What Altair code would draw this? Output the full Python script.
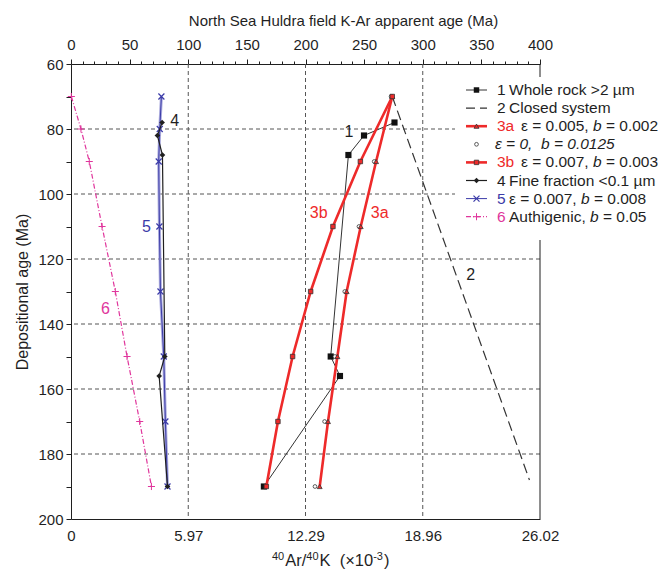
import altair as alt
import pandas as pd

# ---------------- data ----------------
s1_dep = [78, 82, 88, 150, 156, 190]
s1_age = [275.9, 249.9, 236.6, 221.5, 229.4, 164.5]
s2_dep = [70, 188]
s2_age = [274, 391]
s3a_dep = [70, 90, 110, 130, 150, 170, 190]
s3a_age = [274, 260.2, 247.1, 235.1, 227.2, 219.2, 212.1]
s0_dep = [70, 90, 110, 130, 150, 170, 190]
s0_age = [273, 258.6, 245.6, 233.5, 225.1, 216.3, 208.1]
s3b_dep = [70, 90, 110, 130, 150, 170, 190]
s3b_age = [274, 246.8, 223.4, 204.4, 189.0, 176.5, 166.6]
s4_dep = [78, 82, 88, 150, 156, 190]
s4_age = [77.7, 73.7, 78.0, 80.0, 75.2, 82.3]
s5_dep = [70, 80, 90, 110, 130, 150, 170, 190]
s5_age = [77.1, 75.7, 74.8, 75.4, 76.3, 79.1, 80.5, 82.3]
s6_dep = [70, 80, 90, 110, 130, 150, 170, 190]
s6_age = [0.3, 8.5, 15.6, 26.5, 37.8, 47.8, 58.6, 68.6]

grid_x = [100, 200, 300]
grid_y = [80, 100, 120, 140, 160, 180]
top_tick_values = list(range(0, 401, 10))
left_tick_values = list(range(60, 201, 10))
bottom_tick_values = [0, 100, 200, 300, 400]
bottom_tick_labels = ["0", "5.97", "12.29", "18.96", "26.02"]

curve_labels = ["1", "2", "3a", "3b", "4", "5", "6"]
curve_label_age = [237, 341, 263.3, 211.2, 88.5, 64.3, 29.3]
curve_label_dep = [81, 125, 105.8, 105.8, 77.5, 110.2, 135.3]

NBSP = "\u00a0"
legend_prefix = ["1", "2", "3a", "", "3b", "4", "5", "6"]
legend_text = ["Whole rock >2 \u00b5m", "Closed system", "\u03b5 = 0.005, b = 0.002",
               "\u03b5 = 0," + NBSP + NBSP + "b = 0.0125", "\u03b5 = 0.007, b = 0.003",
               "Fine fraction <0.1 \u00b5m", "\u03b5 = 0.007, b = 0.008",
               "Authigenic, b = 0.05"]

# bottom title pieces: (text, is_superscript)
bottom_title_parts = [("40", True), ("Ar/", False), ("40", True),
                      ("K" + NBSP + NBSP + "(\u00d710", False), ("-3", True), (")", False)]
top_title = "North Sea Huldra field K-Ar apparent age (Ma)"
left_title = "Depositional age (Ma)"

# ---------------- styles ----------------
FONT = "Liberation Sans"
INK = "#1f1f1f"
GRAY = "#333333"
RED = "#ee2a2a"
BLUE = "#3b3ba8"
LIGHTBLUE = "#aaaadd"
MAGENTA = "#e0369c"
XSHAPE = "M-1,-1L1,1M-1,1L1,-1"
PLUSSHAPE = "M-1,0L1,0M0,-1L0,1"
label_colors = {"1": INK, "2": INK, "3a": RED, "3b": RED, "4": INK, "5": BLUE, "6": MAGENTA}

# approximate Liberation Sans advance widths (em) for text layout
CHAR_W = {"A": 0.667, "r": 0.333, "/": 0.278, "K": 0.667, " ": 0.278, NBSP: 0.278, "(": 0.333,
          "\u00d7": 0.584, "-": 0.333, ")": 0.333, "=": 0.584, ",": 0.278, ".": 0.278,
          "\u03b5": 0.446, "u": 0.556, "t": 0.278, "h": 0.556, "i": 0.222, "g": 0.556,
          "e": 0.556, "n": 0.556, "c": 0.5, "b": 0.556}
for d in "0123456789":
    CHAR_W[d] = 0.556


def text_width(s, fs):
    return sum(CHAR_W.get(ch, 0.55) for ch in s) * fs


W, H = 469, 455
PAD = {"left": 63, "top": 56, "right": 650 - 63 - 469, "bottom": 50}
xs = alt.Scale(domain=[0, 400], nice=False, zero=False)
ys = alt.Scale(domain=[60, 200], reverse=True, nice=False, zero=False)


def df(dep, age):
    return pd.DataFrame({"dep": dep, "age": age})


def xy(ch):
    return ch.encode(
        x=alt.X("age:Q", scale=xs, axis=None),
        y=alt.Y("dep:Q", scale=ys, axis=None),
        order=alt.Order("dep:Q"),
    )


# ---------------- axes ----------------
axis_df = pd.DataFrame({"age": [0, 400], "dep": [60, 200]})
bottom_expr = " : ".join(
    f"datum.value == {v} ? '{l}'" for v, l in zip(bottom_tick_values, bottom_tick_labels)
) + " : ''"

axis_bottom = alt.Chart(axis_df).mark_point(opacity=0).encode(
    x=alt.X("age:Q", scale=xs, axis=alt.Axis(
        orient="bottom", values=bottom_tick_values, labelExpr=bottom_expr,
        ticks=False, grid=False, labelPadding=9, labelFlush=False, labelOverlap=False,
        title=None)),
)

axis_left = alt.Chart(axis_df).mark_point(opacity=0).encode(
    y=alt.Y("dep:Q", scale=ys, axis=alt.Axis(
        orient="left", values=left_tick_values,
        labelExpr="datum.value % 20 == 0 ? datum.label : ''",
        tickSize=5, grid=False, labelPadding=3, labelFlush=False, labelOverlap=False,
        title=left_title, titleX=-49, titleY=H / 2, titleAngle=-90,
        titleAlign="center", titleBaseline="middle", titleFontSize=16)),
)

axis_top = alt.Chart(axis_df).mark_point(opacity=0).encode(
    x=alt.X("age:Q", scale=xs, axis=alt.Axis(
        orient="top", values=top_tick_values,
        labelExpr="datum.value % 50 == 0 ? datum.label : ''",
        tickSize={"condition": {"test": "datum.value % 50 == 0", "value": 5}, "value": 3},
        grid=False, labelPadding=7, labelFlush=False, labelOverlap=False,
        title=top_title, titleX=272, titleY=-44, titleAlign="center",
        titleBaseline="middle", titleFontSize=15)),
)

grid_v = alt.Chart(pd.DataFrame({"age": grid_x})).mark_rule(
    color="#555555", strokeDash=[4, 3], strokeWidth=1
).encode(x=alt.X("age:Q", scale=xs, axis=None))
grid_h = alt.Chart(pd.DataFrame({"dep": grid_y})).mark_rule(
    color="#555555", strokeDash=[4, 3], strokeWidth=1
).encode(y=alt.Y("dep:Q", scale=ys, axis=None))
right_border = alt.Chart(pd.DataFrame({"age": [400]})).mark_rule(
    color=INK, strokeWidth=1
).encode(x=alt.X("age:Q", scale=xs, axis=None))

# ---------------- series ----------------
layers = [grid_v, grid_h, right_border]

d2 = df(s2_dep, s2_age)
layers.append(xy(alt.Chart(d2).mark_line(color=GRAY, strokeDash=[10, 5], strokeWidth=1.2)))

d6 = df(s6_dep, s6_age)
layers.append(xy(alt.Chart(d6).mark_line(color=MAGENTA, strokeDash=[5, 2, 1, 2], strokeWidth=1.2)))
layers.append(xy(alt.Chart(d6).mark_point(shape=PLUSSHAPE, filled=False, stroke=MAGENTA,
                                          strokeWidth=1, size=50, opacity=1)))

d5 = df(s5_dep, s5_age)
layers.append(xy(alt.Chart(d5).mark_line(color=LIGHTBLUE, strokeWidth=3)))
layers.append(xy(alt.Chart(d5).mark_line(color=BLUE, strokeWidth=1)))
layers.append(xy(alt.Chart(d5).mark_point(shape=XSHAPE, filled=False, stroke=BLUE,
                                          strokeWidth=1.2, size=36, opacity=1)))

d4 = df(s4_dep, s4_age)
layers.append(xy(alt.Chart(d4).mark_line(color=INK, strokeWidth=1.2)))
layers.append(xy(alt.Chart(d4).mark_point(shape="diamond", filled=True, color=INK, size=32, opacity=1)))

d1 = df(s1_dep, s1_age)
layers.append(xy(alt.Chart(d1).mark_line(color=GRAY, strokeWidth=1)))
layers.append(xy(alt.Chart(d1).mark_point(shape="square", filled=True, color="#111111", size=38, opacity=1)))

d3a = df(s3a_dep, s3a_age)
d3b = df(s3b_dep, s3b_age)
layers.append(xy(alt.Chart(d3a).mark_line(color=RED, strokeWidth=2.6)))
layers.append(xy(alt.Chart(d3b).mark_line(color=RED, strokeWidth=2.6)))
d0 = df(s0_dep, s0_age)
layers.append(xy(alt.Chart(d0).mark_point(shape="circle", fill="white", stroke=GRAY,
                                          strokeWidth=0.8, size=14, opacity=1)))
layers.append(xy(alt.Chart(d3a).mark_point(shape="triangle-up", fill=RED, stroke=GRAY,
                                           strokeWidth=0.8, size=24, opacity=1)))
layers.append(xy(alt.Chart(d3b).mark_point(shape="square", fill=RED, stroke=GRAY,
                                           strokeWidth=0.8, size=20, opacity=1)))

# curve labels
lab_df = pd.DataFrame({"t": curve_labels, "age": curve_label_age, "dep": curve_label_dep,
                       "c": [label_colors[t] for t in curve_labels]})
layers.append(alt.Chart(lab_df).mark_text(font=FONT, fontSize=16, baseline="middle", align="center").encode(
    x=alt.X("age:Q", scale=xs, axis=None), y=alt.Y("dep:Q", scale=ys, axis=None),
    text="t:N", color=alt.Color("c:N", scale=None)))

one = pd.DataFrame({"a": [0]})


def text_piece(txt, x, y, fs, color=INK, style="normal", baseline="alphabetic"):
    return alt.Chart(one).mark_text(
        text=txt, font=FONT, fontSize=fs, align="left", baseline=baseline,
        color=color, fontStyle=style).encode(x=alt.value(x), y=alt.value(y))


# bottom axis title with superscripts, composed from text pieces
BASE_FS, SUP_FS = 16.5, 11
tx = 201
for txt, sup in bottom_title_parts:
    fs = SUP_FS if sup else BASE_FS
    layers.append(text_piece(txt, tx, H + 47 - (6.5 if sup else 0), fs))
    tx += text_width(txt, fs) + (1 if sup else 0)

# ---------------- legend ----------------
layers.append(alt.Chart(one).mark_rect(fill="white").encode(
    x=alt.value(384), x2=alt.value(600), y=alt.value(13), y2=alt.value(176)))

LEG_FS = 15.5
row_styles = [
    dict(line=dict(color=GRAY, strokeWidth=1), pt=dict(shape="square", filled=True, color="#111111", size=30)),
    dict(line=dict(color=GRAY, strokeWidth=1.2, strokeDash=[9, 5]), pt=None),
    dict(line=dict(color=RED, strokeWidth=2.6), pt=dict(shape="triangle-up", fill=RED, stroke=GRAY, strokeWidth=0.8, size=24)),
    dict(line=None, pt=dict(shape="circle", fill="white", stroke=GRAY, strokeWidth=0.8, size=14)),
    dict(line=dict(color=RED, strokeWidth=2.6), pt=dict(shape="square", fill=RED, stroke=GRAY, strokeWidth=0.8, size=20)),
    dict(line=dict(color=INK, strokeWidth=1.2), pt=dict(shape="diamond", filled=True, color=INK, size=30)),
    dict(line=dict(color=BLUE, strokeWidth=1), pt=dict(shape=XSHAPE, filled=False, stroke=BLUE, strokeWidth=1.2, size=36)),
    dict(line=dict(color=MAGENTA, strokeWidth=1.2, strokeDash=[5, 2, 1, 2]), pt=dict(shape=PLUSSHAPE, filled=False, stroke=MAGENTA, strokeWidth=1, size=50)),
]
row_y0, row_step = 26, 18.1
sym_x1, sym_x2, text_x = 395, 416, 426
for i, (pre, txt) in enumerate(zip(legend_prefix, legend_text)):
    yy = row_y0 + i * row_step
    st = row_styles[i]
    if st["line"]:
        layers.append(alt.Chart(one).mark_rule(**st["line"]).encode(
            x=alt.value(sym_x1), x2=alt.value(sym_x2), y=alt.value(yy)))
    if st["pt"]:
        layers.append(alt.Chart(one).mark_point(opacity=1, **st["pt"]).encode(
            x=alt.value((sym_x1 + sym_x2) / 2), y=alt.value(yy)))
    if pre:
        layers.append(text_piece(pre, text_x, yy, LEG_FS, color=label_colors[pre], baseline="middle"))
    x0 = text_x + {0: -2, 1: 12, 2: 24}[len(pre)]
    if pre == "":
        layers.append(text_piece(txt, x0, yy, LEG_FS, style="italic", baseline="middle"))
    elif "b =" in txt:
        head, tail = txt.split("b =", 1)
        layers.append(text_piece(head, x0, yy, LEG_FS, baseline="middle"))
        xb = x0 + text_width(head, LEG_FS)
        layers.append(text_piece("b", xb, yy, LEG_FS, style="italic", baseline="middle"))
        xt = xb + text_width("b ", LEG_FS)
        layers.append(text_piece("=" + tail, xt, yy, LEG_FS, baseline="middle"))
    else:
        layers.append(text_piece(txt, x0, yy, LEG_FS, baseline="middle"))

chart = alt.layer(axis_bottom, axis_left, axis_top, *layers).resolve_axis(
    x="independent", y="independent"
).properties(
    width=W, height=H,
    autosize=alt.AutoSizeParams(type="none"),
    padding=PAD,
).configure_view(stroke=None).configure_axis(
    labelFont=FONT, labelFontSize=15, labelColor=INK,
    titleFont=FONT, titleFontSize=15, titleFontWeight="normal", titleColor=INK,
    domainColor=INK, tickColor=INK, domainWidth=1, tickWidth=1,
)

chart.save("out.html", embed_options={"renderer": "svg", "actions": False})
